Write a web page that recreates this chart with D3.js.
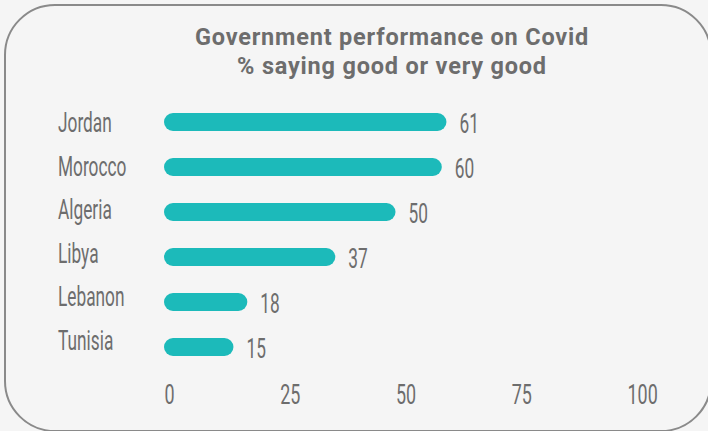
<!DOCTYPE html>
<html>
<head>
<meta charset="utf-8">
<script src="https://cdn.jsdelivr.net/npm/d3@7"></script>
<style>
  html, body { margin: 0; padding: 0; background: #f5f5f5; }
  svg { display: block; }
  .cond { font-family: Roboto, "Liberation Sans", sans-serif; font-weight: 400; fill: #6d6d6d; }
</style>
</head>
<body>
<svg id="chart" width="708" height="431"></svg>
<script>
// Share saying the government's Covid performance is good or very good
const countries = ["Jordan", "Morocco", "Algeria", "Libya", "Lebanon", "Tunisia"];
const values = [61, 60, 50, 37, 18, 15];
const tickValues = [0, 25, 50, 75, 100];
const titleLines = ["Government performance on Covid", "% saying good or very good"];

const W = 708, H = 431;
const svg = d3.select("#chart");
const textColor = "#6d6d6d";
const barColor = "#1cbaba";
const squeeze = 0.64; // horizontal squeeze for the condensed label face

// Card background with rounded border
svg.append("rect")
  .attr("x", 5).attr("y", 5)
  .attr("width", 706).attr("height", 426)
  .attr("rx", 50).attr("ry", 50)
  .attr("fill", "#f5f5f5")
  .attr("stroke", "#8a8a8a")
  .attr("stroke-width", 2);

// Title
svg.append("g").selectAll("text")
  .data(titleLines)
  .join("text")
  .attr("x", 392)
  .attr("y", (d, i) => 45 + i * 28.5)
  .attr("text-anchor", "middle")
  .attr("font-family", "Roboto, 'Liberation Sans', sans-serif")
  .attr("font-weight", 700)
  .attr("font-size", 23.5)
  .attr("letter-spacing", 0.8)
  .attr("fill", textColor)
  .text(d => d);

// Scales
const x = d3.scaleLinear().domain([0, 100]).range([164, 627]);
const yBar = d3.scalePoint().domain(countries).range([122, 347]);
const yLabel = d3.scalePoint().domain(countries).range([122.5, 340]);
const barH = 18;

// Condensed text helper: positions then squeezes horizontally
function condText(sel, fx, fy, size) {
  sel.attr("class", "cond")
    .attr("font-size", size)
    .attr("x", 0).attr("y", 0)
    .attr("transform", (d, i) => `translate(${fx(d, i)},${fy(d, i)}) scale(${squeeze},1)`);
}

// Bars with rounded ends
svg.append("g").selectAll("rect")
  .data(countries)
  .join("rect")
  .attr("x", x(0))
  .attr("y", d => yBar(d) - barH / 2)
  .attr("width", (d, i) => x(values[i]) - x(0))
  .attr("height", barH)
  .attr("rx", barH / 2)
  .attr("fill", barColor);

// Country labels
svg.append("g").selectAll("text")
  .data(countries)
  .join("text")
  .call(condText, () => 58, d => yLabel(d) + 9.5, 27)
  .text(d => d);

// Value labels
svg.append("g").selectAll("text")
  .data(countries)
  .join("text")
  .call(condText, (d, i) => x(values[i]) + 13, d => yBar(d) + 10.5, 27)
  .text((d, i) => values[i]);

// Bottom axis (labels only)
const axis = d3.axisBottom(x).tickValues(tickValues).tickSize(0).tickPadding(0);
const axisG = svg.append("g").attr("transform", "translate(0,404)").call(axis);
axisG.select(".domain").remove();
axisG.selectAll(".tick text")
  .attr("class", "cond")
  .attr("fill", textColor)
  .attr("font-size", 28)
  .attr("dy", 0)
  .attr("text-anchor", "start")
  .attr("transform", `scale(${squeeze},1)`);
</script>
</body>
</html>
